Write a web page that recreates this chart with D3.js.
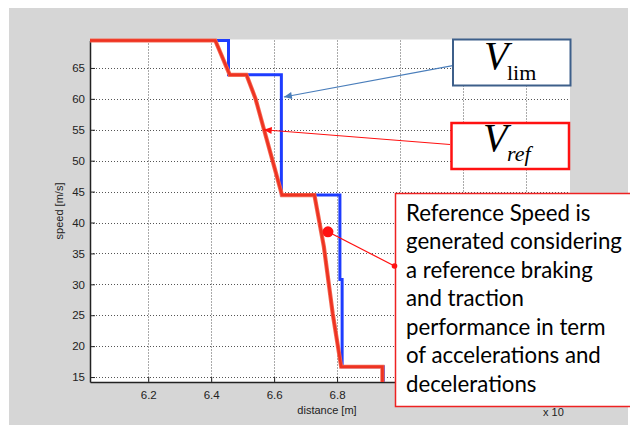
<!DOCTYPE html>
<html>
<head>
<meta charset="utf-8">
<script src="https://cdn.jsdelivr.net/npm/d3@7"></script>
<style>
  body { margin: 0; background: #fff; }
  svg { display: block; }
</style>
</head>
<body>
<svg width="630" height="425"></svg>
<script>
// speed limit (blue) and reference speed (red), distance in 10^4 m, speed in m/s
const limDist  = [6.015, 6.455, 6.455, 6.623, 6.623, 6.809, 6.809, 6.816, 6.816, 6.947, 6.947];
const limSpeed = [69.44, 69.44, 63.89, 63.89, 44.44, 44.44, 30.8, 30.8, 16.67, 16.67, 0];
const refDist  = [6.015, 6.413, 6.459, 6.512, 6.541, 6.568, 6.595, 6.625, 6.728, 6.758, 6.786, 6.813, 6.944, 6.944];
const refSpeed = [69.44, 69.44, 63.89, 63.89, 60, 55, 50, 44.44, 44.44, 36.1, 25.3, 16.67, 16.67, 0];
const xTicks = [6.2, 6.4, 6.6, 6.8, 7.0, 7.2, 7.4];
const yTicks = [15, 20, 25, 30, 35, 40, 45, 50, 55, 60, 65];
const noteLines = ['Reference Speed is', 'generated considering', 'a reference braking',
  'and traction', 'performance in term', 'of accelerations and', 'decelerations'];

const svg = d3.select('svg');
const m = {left: 90, right: 570, top: 40.5, bottom: 382};
const x = d3.scaleLinear().domain([6.015, 7.54]).range([m.left, m.right]);
const y = d3.scaleLinear().domain([14.2, 69.44]).range([m.bottom, m.top]);

// figure background
svg.append('rect').attr('x', 9).attr('y', 8).attr('width', 619).attr('height', 417).attr('fill', '#d6d6d6');
svg.append('rect').attr('x', m.left).attr('y', m.top - 1).attr('width', m.right - m.left)
   .attr('height', m.bottom - m.top + 1).attr('fill', '#fff');

// grid
const grid = svg.append('g').attr('stroke', '#555').attr('stroke-dasharray', '1,2').attr('stroke-width', 1);
grid.selectAll('.gx').data(xTicks).enter().append('line')
    .attr('x1', d => Math.round(x(d)) + 0.5).attr('x2', d => Math.round(x(d)) + 0.5)
    .attr('y1', m.top).attr('y2', m.bottom);
grid.selectAll('.gy').data(yTicks).enter().append('line')
    .attr('y1', d => Math.round(y(d)) + 0.5).attr('y2', d => Math.round(y(d)) + 0.5)
    .attr('x1', m.left).attr('x2', m.right);

// axes (ticks inside, MATLAB style); labels from 7.0 on sit under the note box
const xAxis = svg.append('g').attr('transform', 'translate(0,' + m.bottom + ')')
    .call(d3.axisBottom(x).tickValues(xTicks).tickSizeInner(-5).tickSizeOuter(0).tickPadding(9)
          .tickFormat(d => d < 6.9 ? d3.format('.1f')(d) : ''));
const yAxis = svg.append('g').attr('transform', 'translate(' + m.left + ',0)')
    .call(d3.axisLeft(y).tickValues(yTicks).tickSizeInner(-5).tickSizeOuter(0).tickPadding(5));
[xAxis, yAxis].forEach(a => {
  a.select('.domain').attr('stroke', '#222').attr('stroke-width', 1.5);
  a.selectAll('.tick line').attr('stroke', '#222');
  a.selectAll('text').attr('fill', '#222').style('font', '11.5px "Liberation Sans", Arial, sans-serif');
});

svg.append('text').attr('transform', 'translate(63,211) rotate(-90)').attr('text-anchor', 'middle')
   .style('font', '11px "Liberation Sans", Arial, sans-serif').attr('fill', '#222').text('speed [m/s]');
svg.append('text').attr('x', 327).attr('y', 414).attr('text-anchor', 'middle')
   .style('font', '11px "Liberation Sans", Arial, sans-serif').attr('fill', '#222').text('distance [m]');
svg.append('text').attr('x', 543).attr('y', 416)
   .style('font', '11px "Liberation Sans", Arial, sans-serif').attr('fill', '#222').text('x 10');

// curves
svg.append('clipPath').attr('id', 'plot').append('rect')
   .attr('x', m.left).attr('y', m.top - 3).attr('width', m.right - m.left).attr('height', m.bottom - m.top + 3);
const line = d3.line().x(d => x(d[0])).y(d => y(d[1]));
const curves = svg.append('g').attr('clip-path', 'url(#plot)').attr('fill', 'none');
curves.append('path').datum(d3.zip(limDist, limSpeed)).attr('d', line)
      .attr('stroke', '#1e3cff').attr('stroke-width', 3);
curves.append('path').datum(d3.zip(refDist, refSpeed)).attr('d', line)
      .attr('stroke', '#f46a55').attr('stroke-width', 4.2);
curves.append('path').datum(d3.zip(refDist, refSpeed)).attr('d', line)
      .attr('stroke', '#ee3322').attr('stroke-width', 2.6);

// arrows to labels
function arrow(x1, y1, x2, y2, color) {
  svg.append('line').attr('x1', x1).attr('y1', y1).attr('x2', x2).attr('y2', y2)
     .attr('stroke', color).attr('stroke-width', 1.2);
  const a = Math.atan2(y2 - y1, x2 - x1), L = 8, W = 3.5;
  const bx = x2 - L * Math.cos(a), by = y2 - L * Math.sin(a);
  svg.append('path').attr('fill', color)
     .attr('d', 'M' + x2 + ',' + y2 + 'L' + (bx - W * Math.sin(a)) + ',' + (by + W * Math.cos(a)) +
                'L' + (bx + W * Math.sin(a)) + ',' + (by - W * Math.cos(a)) + 'Z');
}
arrow(452.7, 65.7, x(6.631), y(60.3), '#4a7ebb');
arrow(450, 144.5, x(6.567), y(55.0), '#ff1111');

// V_lim box
svg.append('rect').attr('x', 453).attr('y', 39.5).attr('width', 117.5).attr('height', 46)
   .attr('fill', '#fff').attr('stroke', '#3d5f8a').attr('stroke-width', 2);
const vl = svg.append('text').attr('x', 484).attr('y', 69).attr('fill', '#000')
   .style('font-family', '"Liberation Serif", "Times New Roman", serif');
vl.append('tspan').style('font-size', '40px').style('font-style', 'italic').text('V');
vl.append('tspan').attr('x', 507).attr('y', 80).style('font-size', '22px').text('lim');

// V_ref box
svg.append('rect').attr('x', 451.5).attr('y', 123).attr('width', 117.5).attr('height', 46)
   .attr('fill', '#fff').attr('stroke', '#ff1111').attr('stroke-width', 2.5);
const vr = svg.append('text').attr('x', 483).attr('y', 151).attr('fill', '#000')
   .style('font-family', '"Liberation Serif", "Times New Roman", serif').style('font-style', 'italic');
vr.append('tspan').style('font-size', '40px').text('V');
vr.append('tspan').attr('x', 507).attr('y', 161).style('font-size', '22px').text('ref');

// note box
svg.append('line').attr('x1', x(6.771)).attr('y1', y(38.5)).attr('x2', 394.5).attr('y2', 266)
   .attr('stroke', '#ff1111').attr('stroke-width', 1.2);
svg.append('circle').attr('cx', x(6.771)).attr('cy', y(38.5)).attr('r', 5.5).attr('fill', '#ff1111');
svg.append('rect').attr('x', 395.5).attr('y', 193.5).attr('width', 240).attr('height', 213)
   .attr('fill', '#fff').attr('stroke', '#ee2222').attr('stroke-width', 1.5);
svg.append('circle').attr('cx', 394.5).attr('cy', 266).attr('r', 2.8).attr('fill', '#ff1111');
const note = svg.append('g').style('font-family', 'Lato, "Open Sans", sans-serif').attr('fill', '#000');
note.selectAll('text').data(noteLines).enter().append('text')
    .attr('x', 406).attr('y', (d, i) => 220.7 + i * 28.5).style('font-size', '22px').text(d => d);
// fit font so the widest line spans like the reference
const w = note.selectAll('text').nodes()[1].getComputedTextLength();
note.selectAll('text').style('font-size', (22 * 216 / w) + 'px');
</script>
</body>
</html>
